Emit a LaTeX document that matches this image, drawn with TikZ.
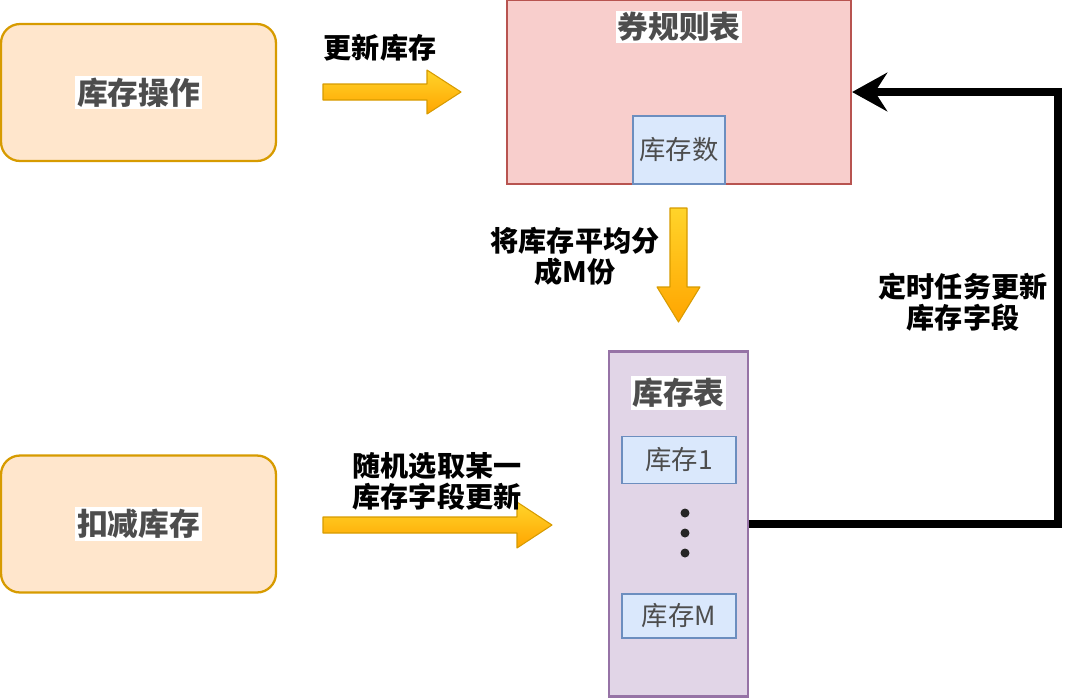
\documentclass[tikz,border=0pt]{standalone}
\usepackage{fontspec}
\setmainfont{Noto Sans CJK SC}
\usetikzlibrary{arrows.meta,positioning}

\definecolor{opfill}{HTML}{FFE6CC}
\definecolor{opline}{HTML}{D79B00}
\definecolor{rulefill}{HTML}{F8CECC}
\definecolor{ruleline}{HTML}{B85450}
\definecolor{cellfill}{HTML}{DAE8FC}
\definecolor{cellline}{HTML}{6C8EBF}
\definecolor{tabfill}{HTML}{E1D5E7}
\definecolor{tabline}{HTML}{9673A6}
\definecolor{txtgray}{HTML}{4D4D4D}
\definecolor{arrtop}{HTML}{FFD42A}
\definecolor{arrbot}{HTML}{FFA500}

\tikzset{
  opbox/.style={draw=opline,fill=opfill,line width=1.3pt,rounded corners=0.38cm,
    minimum width=5.5cm,minimum height=2.74cm},
  title/.style={fill=white,text=txtgray,font=\bfseries\fontsize{17.5}{20}\selectfont,inner sep=1pt},
  cell/.style={draw=cellline,fill=cellfill,line width=0.8pt,text=txtgray,
    font=\fontsize{15}{18}\selectfont,minimum width=2.28cm},
  blockarrow/.style={draw=opline,line width=0.6pt,line join=round,top color=arrtop,bottom color=arrbot},
  lbl/.style={font=\bfseries\fontsize{16}{17.6}\selectfont,align=center,inner sep=0pt}
}

\begin{document}
\begin{tikzpicture}[x=0.02cm,y=-0.02cm]
  \useasboundingbox (0,0) rectangle (1080,698);
  % left boxes
  \node[opbox] (ops) at (138.5,92.5) {};
  \node[title] at (ops) {库存操作};
  \node[opbox] (deduct) at (138.5,524) {};
  \node[title] at (deduct) {扣减库存};
  % coupon rule table
  \node[draw=ruleline,fill=rulefill,line width=1.3pt,minimum width=6.88cm,minimum height=3.68cm] (rule) at (679,92) {};
  \node[title] at (679,27) {券规则表};
  \node[cell,minimum width=1.84cm,minimum height=1.36cm] (total) at (679,150) {库存数};
  % stock table
  \node[draw=tabline,fill=tabfill,line width=1.3pt,minimum width=2.78cm,minimum height=6.9cm] (stock) at (678.5,524) {};
  \node[title] at (678.5,393) {库存表};
  \node[cell,minimum height=0.94cm] (s1) at (679,460) {库存1};
  \node[cell,minimum height=0.88cm] (sM) at (679,616) {库存M};
  \foreach \y in {513,533,553}
    \fill[black!85] (685,\y) circle (0.09cm);
  % block arrows
  \draw[blockarrow] (323,84) -- (427,84) -- (427,70) -- (461,92) -- (427,114) -- (427,100) -- (323,100) -- cycle;
  \node[lbl] at (380,48) {更新库存};
  \draw[blockarrow] (670,208) -- (687,208) -- (687,287) -- (700,287) -- (678.5,322) -- (657,287) -- (670,287) -- cycle;
  \node[lbl] at (575,256) {将库存平均分\\成M份};
  \draw[blockarrow] (323,517) -- (517,517) -- (517,502) -- (552,525) -- (517,548) -- (517,533) -- (323,533) -- cycle;
  \node[lbl] at (437,481) {随机选取某一\\库存字段更新};
  % timer feedback
  \coordinate (turn) at (1058,524);
  \draw[line width=4pt,-{Stealth[length=20pt,width=22pt,inset=7pt]}]
    (stock.east) -- (turn) |- (rule.east);
  \node[lbl] at (963,302) {定时任务更新\\库存字段};
\end{tikzpicture}
\end{document}
